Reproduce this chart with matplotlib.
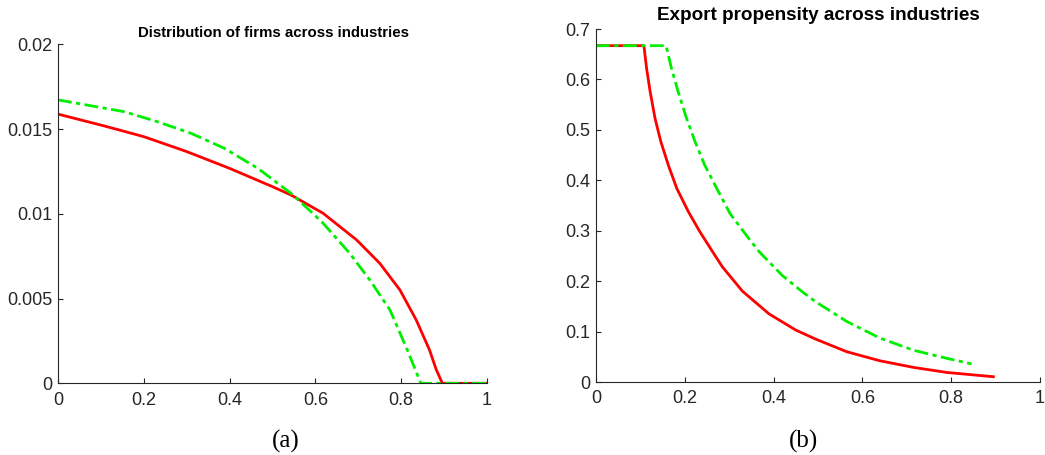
#!/usr/bin/env python3
# -*- coding: utf-8 -*-

import numpy as np
import matplotlib
matplotlib.use("Agg")
import matplotlib.pyplot as plt

# panel (a): distribution of firms across industries
dist_x_red = [0.0, 0.108, 0.2, 0.3, 0.4, 0.5, 0.543, 0.618, 0.696, 0.75,
              0.797, 0.835, 0.866, 0.882, 0.896, 1.0]
dist_y_red = [0.01588, 0.01518, 0.01455, 0.01367, 0.01268, 0.0116, 0.01111,
              0.01003, 0.00846, 0.00708, 0.00551, 0.00374, 0.00197, 0.00079,
              0.0, 0.0]
dist_x_green = [0.0, 0.155, 0.232, 0.31, 0.388, 0.466, 0.543, 0.59, 0.618,
                0.68, 0.727, 0.774, 0.812, 0.846, 1.0]
dist_y_green = [0.01672, 0.01602, 0.01543, 0.01475, 0.01386, 0.01268, 0.01121,
                0.01012, 0.00944, 0.00767, 0.00609, 0.00432, 0.0021, 0.0, 0.0]

# panel (b): export propensity across industries
exp_x_red = [0.0, 0.108, 0.114, 0.122, 0.133, 0.146, 0.163, 0.182, 0.208,
             0.234, 0.26, 0.285, 0.33, 0.39, 0.45, 0.495, 0.565, 0.64, 0.715,
             0.79, 0.895]
exp_y_red = [0.667, 0.667, 0.622, 0.576, 0.523, 0.477, 0.43, 0.384, 0.338,
             0.298, 0.262, 0.228, 0.18, 0.135, 0.103, 0.085, 0.06, 0.042,
             0.029, 0.019, 0.0105]
exp_x_green = [0.0, 0.158, 0.17, 0.185, 0.204, 0.223, 0.245, 0.272, 0.302,
               0.343, 0.368, 0.42, 0.466, 0.495, 0.565, 0.64, 0.715, 0.79,
               0.846]
exp_y_green = [0.667, 0.667, 0.622, 0.576, 0.523, 0.477, 0.43, 0.384, 0.334,
               0.286, 0.258, 0.211, 0.178, 0.159, 0.12, 0.087, 0.063, 0.047,
               0.036]

axcol = "#262626"
plt.rcParams["font.family"] = ["Liberation Sans", "DejaVu Sans"]

fig = plt.figure(figsize=(10.45, 4.55), dpi=100)
ax1 = fig.add_axes([0.0555, 0.1576, 0.4105, 0.7451])
ax2 = fig.add_axes([0.5703, 0.1604, 0.4249, 0.7758])

dashdot = (0, (5, 1.6, 1.5, 1.6))

for ax in (ax1, ax2):
    for s in ("top", "right"):
        ax.spines[s].set_visible(False)
    for s in ("left", "bottom"):
        ax.spines[s].set_color(axcol)
        ax.spines[s].set_linewidth(0.8)
    ax.tick_params(direction="in", length=3.6, width=0.8, colors=axcol,
                   labelsize=13)
    ax.tick_params(axis="x", pad=6)
    ax.tick_params(axis="y", pad=4)
    ax.set_xlim(0, 1)
    ax.set_xticks([0, 0.2, 0.4, 0.6, 0.8, 1])
    ax.set_xticklabels(["0", "0.2", "0.4", "0.6", "0.8", "1"])

ax1.plot(dist_x_red, dist_y_red, color="#ff0000", lw=2)
ax1.plot(dist_x_green, dist_y_green, color="#00ee00", lw=2, linestyle=dashdot)
ax1.set_ylim(0, 0.02)
ax1.set_yticks([0, 0.005, 0.01, 0.015, 0.02])
ax1.set_yticklabels(["0", "0.005", "0.01", "0.015", "0.02"])

ax2.plot(exp_x_red, exp_y_red, color="#ff0000", lw=2)
ax2.plot(exp_x_green, exp_y_green, color="#00ee00", lw=2, linestyle=dashdot)
ax2.set_ylim(0, 0.7)
ax2.set_yticks([0, 0.1, 0.2, 0.3, 0.4, 0.5, 0.6, 0.7])
ax2.set_yticklabels(["0", "0.1", "0.2", "0.3", "0.4", "0.5", "0.6", "0.7"])

fig.text(273 / 1045, 1 - 33 / 455, "Distribution of firms across industries",
         ha="center", va="center", fontsize=10.8, fontweight="bold")
fig.text(818 / 1045, 1 - 15 / 455, "Export propensity across industries",
         ha="center", va="center", fontsize=13.6, fontweight="bold")

fig.text(286 / 1045, 1 - 441 / 455, "(a)", ha="center", va="center",
         fontsize=18, family="Liberation Serif")
fig.text(803 / 1045, 1 - 441 / 455, "(b)", ha="center", va="center",
         fontsize=18, family="Liberation Serif")

fig.savefig("out.png", dpi=100)
